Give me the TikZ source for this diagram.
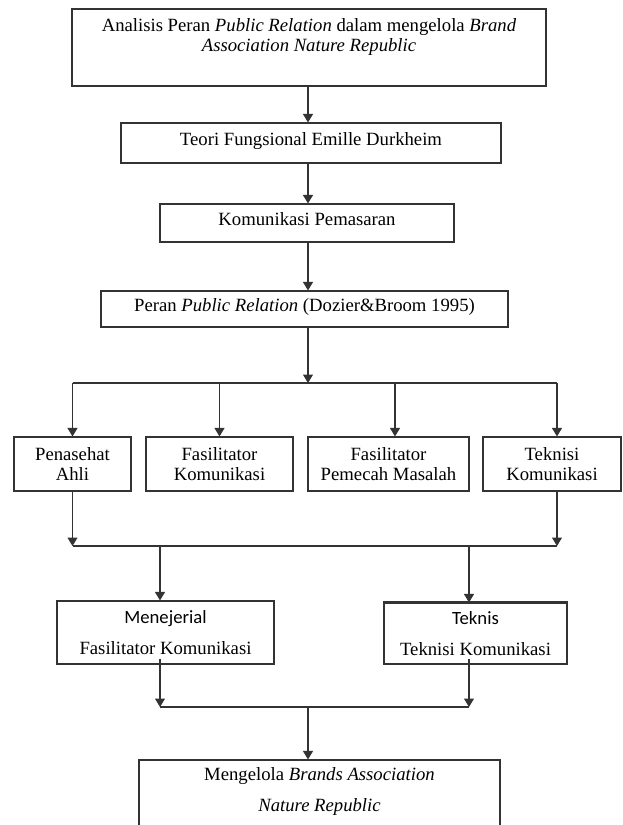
\documentclass[tikz,border=0pt]{standalone}
\usepackage{fontspec}
\setmainfont{Liberation Serif}
\setsansfont{Carlito}
\usetikzlibrary{arrows.meta}

\begin{document}
\begin{tikzpicture}[
            x = 1pt, y = -1pt,
            block/.style = {draw = black!80, line width = 1.1pt, rectangle, inner sep = 0pt,
                            font = \fontsize{18.7}{20.5}\selectfont},
            oneline/.style = {block, text height = 12pt, text depth = 8pt},
            twoline/.style = {block, align = center},
            link/.style = {draw = black!80, line width = 1.1pt},
            arrow/.style = {link, -{Triangle[length = 8.5pt, width = 10pt]}}
            ]
            \useasboundingbox (0,0) rectangle (622,825);
            \clip (0,0) rectangle (622,825);

            \node[block] (analisis) at (309,47.5)
                {\parbox[c][77pt][t]{474pt}{\centering\rule{0pt}{22pt}Analisis Peran \textit{Public Relation} dalam mengelola \textit{Brand}\\
                 \textit{Association Nature Republic}}};
            \node[oneline, minimum width = 380pt, minimum height = 40pt] (teori) at (311,143) {Teori Fungsional Emille Durkheim};
            \node[oneline, minimum width = 294pt, minimum height = 38pt] (kompem) at (307,223) {Komunikasi Pemasaran};
            \node[oneline, minimum width = 407pt, minimum height = 36pt] (peran) at (304.5,309) {Peran \textit{Public Relation} (Dozier\&Broom 1995)};

            \node[twoline, minimum width = 117pt, minimum height = 54pt] (ahli) at (72.5,464) {Penasehat\\Ahli};
            \node[twoline, minimum width = 147pt, minimum height = 54pt] (faskom) at (219.5,464) {Fasilitator\\Komunikasi};
            \node[twoline, minimum width = 161pt, minimum height = 54pt] (pemecah) at (388.5,464) {Fasilitator\\Pemecah Masalah};
            \node[twoline, minimum width = 138pt, minimum height = 54pt] (teknisi) at (552,464) {Teknisi\\Komunikasi};

            \node[twoline, minimum width = 217pt, minimum height = 63pt] (menejerial) at (165.5,632.5)
                {{\sffamily Menejerial}\\[10.5pt]Fasilitator Komunikasi};
            \node[twoline, minimum width = 183pt, minimum height = 61pt] (teknis) at (475.5,633.5)
                {{\sffamily Teknis}\\[10.5pt]Teknisi Komunikasi};
            \draw[link, line width = 2.2pt] (teknis.north west) -- (teknis.north east);

            \node[block] (kelola) at (319.5,802.5)
                {\parbox[c][85pt][t]{361pt}{\centering\rule{0pt}{20pt}Mengelola \textit{Brands Association}\\[10.5pt]
                 \textit{Nature Republic}}};

            \coordinate (spine) at (308,0);
            \draw[arrow] (analisis.south -| spine) -- (teori.north -| spine);
            \draw[arrow] (teori.south -| spine) -- (kompem.north -| spine);
            \draw[arrow] (kompem.south -| spine) -- (peran.north -| spine);

            \coordinate (hub) at (308,383);
            \coordinate (drop1) at (72.5,383);
            \coordinate (drop2) at (219.5,383);
            \coordinate (drop3) at (395,383);
            \coordinate (drop4) at (557,383);
            \draw[arrow] (peran.south -| spine) -- (hub);
            \draw[link] (drop1) -- (drop4);
            \draw[arrow] (drop1) -- (drop1 |- ahli.north);
            \draw[arrow] (drop2) -- (drop2 |- faskom.north);
            \draw[arrow] (drop3) -- (drop3 |- pemecah.north);
            \draw[arrow] (drop4) -- (drop4 |- teknisi.north);

            \coordinate (merge1l) at (72.5,546);
            \coordinate (merge1r) at (557,546);
            \coordinate (split1) at (160,546);
            \coordinate (split2) at (469,546);
            \draw[arrow] (merge1l |- ahli.south) -- (merge1l);
            \draw[arrow] (merge1r |- teknisi.south) -- (merge1r);
            \draw[link] (merge1l) -- (merge1r);
            \draw[arrow] (split1) -- (split1 |- menejerial.north);
            \draw[arrow] (split2) -- (split2 |- teknis.north);

            \coordinate (merge2l) at (160,707);
            \coordinate (merge2r) at (469,707);
            \coordinate (merge2m) at (308,707);
            \draw[arrow] ([yshift=6pt]merge2l |- menejerial.south) -- (merge2l);
            \draw[arrow] ([yshift=6pt]merge2r |- teknis.south) -- (merge2r);
            \draw[link] (merge2l) -- (merge2r);
            \draw[arrow] (merge2m) -- (merge2m |- kelola.north);
          \end{tikzpicture}
\end{document}
